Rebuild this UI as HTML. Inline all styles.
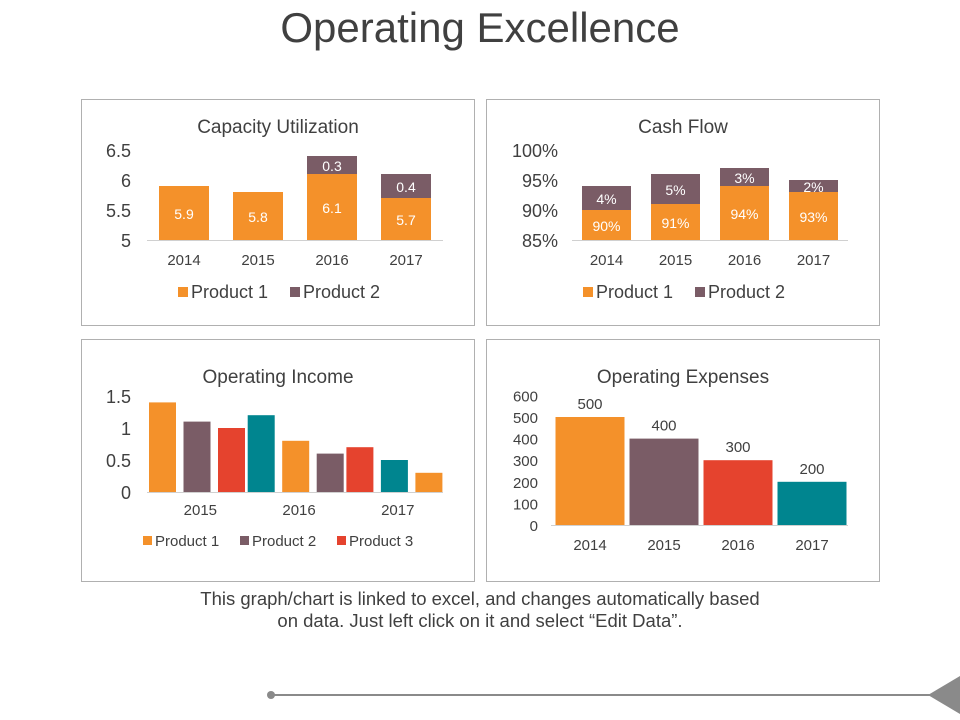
<!DOCTYPE html>
<html><head><meta charset="utf-8"><style>
body{margin:0;background:#fff;}
svg{display:block;font-family:"Liberation Sans",Arial,sans-serif;}
</style></head><body>
<svg id="s" width="960" height="720" viewBox="0 0 960 720">
<text x="480" y="42" text-anchor="middle" font-size="42" fill="#404040">Operating Excellence</text>
<rect x="81.5" y="99.5" width="393" height="226" fill="none" stroke="#b0b0b0"/>
<rect x="486.5" y="99.5" width="393" height="226" fill="none" stroke="#b0b0b0"/>
<rect x="81.5" y="339.5" width="393" height="242" fill="none" stroke="#b0b0b0"/>
<rect x="486.5" y="339.5" width="393" height="242" fill="none" stroke="#b0b0b0"/>
<g id="g1"></g>
<g id="g2"></g>
<g id="g3"></g>
<g id="g4"></g>
<text x="480" y="605" text-anchor="middle" font-size="18.5" fill="#404040">This graph/chart is linked to excel, and changes automatically based</text>
<text x="480" y="627" text-anchor="middle" font-size="18.5" fill="#404040">on data. Just left click on it and select “Edit Data”.</text>
<line x1="270" y1="695" x2="932" y2="695" stroke="#8a8a8a" stroke-width="2"/>
<circle cx="271" cy="695" r="4" fill="#8a8a8a"/>
<polygon points="928,695 960,676 960,714" fill="#8a8a8a"/>
</svg>
<script>
const capYears=["2014","2015","2016","2017"];
const capP1=[5.9,5.8,6.1,5.7];
const capP2=[0,0,0.3,0.4];
const capTicks=[5,5.5,6,6.5];
const cfYears=["2014","2015","2016","2017"];
const cfP1=[90,91,94,93];
const cfP2=[4,5,3,2];
const cfTicks=[85,90,95,100];
const incYears=["2015","2016","2017"];
const incValues=[1.4,1.1,1.0,1.2,0.8,0.6,0.7,0.5,0.3];
const incTicks=[0,0.5,1,1.5];
const expYears=["2014","2015","2016","2017"];
const expValues=[500,400,300,200];
const expTicks=[0,100,200,300,400,500,600];
const C=["#f4912a","#7a5c66","#e5432e","#00858f"];
const NS="http://www.w3.org/2000/svg";
function el(g,t,a,txt){const e=document.createElementNS(NS,t);for(const k in a)e.setAttribute(k,a[k]);if(txt!==undefined)e.textContent=txt;g.appendChild(e);return e;}

// Chart 1
(function(){const g=document.getElementById('g1');
const y=v=>240-(v-5)*60, x0=147, cw=74;
let t=el(g,'text',{x:278,y:133,'text-anchor':'middle','font-size':19,fill:'#404040'},'Capacity Utilization');

capTicks.forEach(v=>{const e=el(g,'text',{x:131,y:y(v)+7,'text-anchor':'end','font-size':18,fill:'#404040'},String(v));
});
const ax=el(g,'line',{x1:x0,y1:240.5,x2:443,y2:240.5,stroke:'#d0d0d0'});

capYears.forEach((yr,i)=>{const cx=x0+cw*(i+0.5),w=50;
const b=el(g,'rect',{x:cx-w/2,y:y(capP1[i]),width:w,height:240-y(capP1[i]),fill:C[0]});

const l=el(g,'text',{x:cx,y:(y(capP1[i])+240)/2+6,'text-anchor':'middle','font-size':14,fill:'#fff'},String(capP1[i]));

if(capP2[i]>0){const top=y(capP1[i]+capP2[i]);
const b2=el(g,'rect',{x:cx-w/2,y:top,width:w,height:y(capP1[i])-top,fill:C[1]});

const l2=el(g,'text',{x:cx,y:(top+y(capP1[i]))/2+6,'text-anchor':'middle','font-size':14,fill:'#fff'},String(capP2[i]));
}
const xl=el(g,'text',{x:cx,y:265,'text-anchor':'middle','font-size':15,fill:'#404040'},yr);
});
[[178,'Product 1',C[0]],[290,'Product 2',C[1]]].forEach(([lx,n,c])=>{
const s=el(g,'rect',{x:lx,y:287,width:10,height:10,fill:c});
const tt=el(g,'text',{x:lx+13,y:298,'font-size':18,fill:'#404040'},n);});
})();

// Chart 2
(function(){const g=document.getElementById('g2');
const y=v=>240-(v-85)*6, x0=572, cw=69;
let t=el(g,'text',{x:683,y:133,'text-anchor':'middle','font-size':19,fill:'#404040'},'Cash Flow');

cfTicks.forEach(v=>{const e=el(g,'text',{x:558,y:y(v)+7,'text-anchor':'end','font-size':18,fill:'#404040'},v+'%');
});
const ax=el(g,'line',{x1:x0,y1:240.5,x2:848,y2:240.5,stroke:'#d0d0d0'});

cfYears.forEach((yr,i)=>{const cx=x0+cw*(i+0.5),w=49;
const t1=y(cfP1[i]),t2=y(cfP1[i]+cfP2[i]);
const b=el(g,'rect',{x:cx-w/2,y:t1,width:w,height:240-t1,fill:C[0]});

const l=el(g,'text',{x:cx,y:(t1+240)/2+6,'text-anchor':'middle','font-size':14,fill:'#fff'},cfP1[i]+'%');

const b2=el(g,'rect',{x:cx-w/2,y:t2,width:w,height:t1-t2,fill:C[1]});

const l2=el(g,'text',{x:cx,y:(t1+t2)/2+6,'text-anchor':'middle','font-size':14,fill:'#fff'},cfP2[i]+'%');

const xl=el(g,'text',{x:cx,y:265,'text-anchor':'middle','font-size':15,fill:'#404040'},yr);
});
[[583,'Product 1',C[0]],[695,'Product 2',C[1]]].forEach(([lx,n,c])=>{
const s=el(g,'rect',{x:lx,y:287,width:10,height:10,fill:c});
const tt=el(g,'text',{x:lx+13,y:298,'font-size':18,fill:'#404040'},n);});
})();

// Chart 3
(function(){const g=document.getElementById('g3');
const y=v=>492-v*64, x0=147, cw=98.7;
let t=el(g,'text',{x:278,y:383,'text-anchor':'middle','font-size':19,fill:'#404040'},'Operating Income');

incTicks.forEach(v=>{const e=el(g,'text',{x:131,y:y(v)+7,'text-anchor':'end','font-size':18,fill:'#404040'},String(v));
});
const ax=el(g,'line',{x1:x0,y1:492.5,x2:443,y2:492.5,stroke:'#d0d0d0'});

incValues.forEach((v,i)=>{const c=Math.floor(i/3),s=i%3;const bx=x0+c*cw+2+s*34.5;
const b=el(g,'rect',{x:bx,y:y(v),width:27,height:492-y(v),fill:C[i%4]});
});
incYears.forEach((yr,i)=>{const xl=el(g,'text',{x:x0+cw*(i+0.5)+4,y:515,'text-anchor':'middle','font-size':15,fill:'#404040'},yr);
});
[[143,'Product 1',C[0]],[240,'Product 2',C[1]],[337,'Product 3',C[2]]].forEach(([lx,n,c])=>{
const s=el(g,'rect',{x:lx,y:536,width:9,height:9,fill:c});
const tt=el(g,'text',{x:lx+12,y:546,'font-size':15,fill:'#404040'},n);});
})();

// Chart 4
(function(){const g=document.getElementById('g4');
const y=v=>525-v*0.216, x0=551, cw=74;
let t=el(g,'text',{x:683,y:383,'text-anchor':'middle','font-size':19,fill:'#404040'},'Operating Expenses');

expTicks.forEach(v=>{const e=el(g,'text',{x:538,y:y(v)+6,'text-anchor':'end','font-size':15,fill:'#404040'},String(v));
});
const ax=el(g,'line',{x1:x0,y1:525.5,x2:848,y2:525.5,stroke:'#d0d0d0'});

expValues.forEach((v,i)=>{const cx=x0+cw*(i+0.5)+2;
const b=el(g,'rect',{x:cx-34.5,y:y(v),width:69,height:525-y(v),fill:C[i]});

const l=el(g,'text',{x:cx,y:y(v)-8,'text-anchor':'middle','font-size':15,fill:'#404040'},String(v));

const xl=el(g,'text',{x:cx,y:550,'text-anchor':'middle','font-size':15,fill:'#404040'},expYears[i]);
});
})();
</script>
</body></html>
